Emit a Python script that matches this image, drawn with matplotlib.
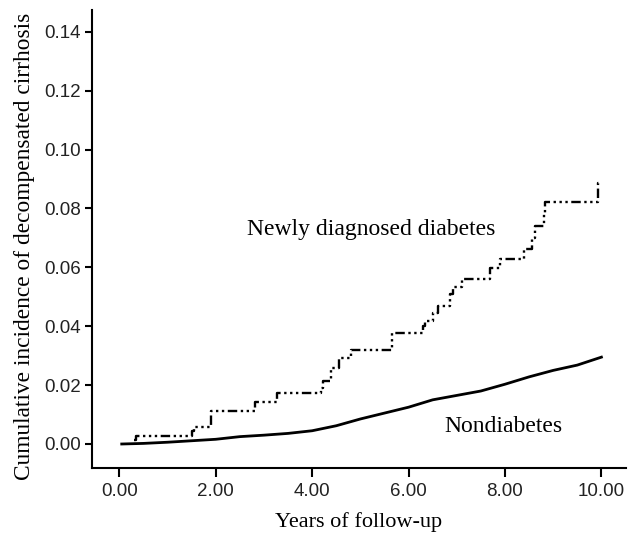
import matplotlib
matplotlib.use("Agg")
import matplotlib.pyplot as plt

# Newly diagnosed diabetes (step function: time of step, value after step)
diab_t = [0.30, 0.35, 1.50, 1.55, 1.90, 2.82, 3.28, 4.18, 4.22, 4.40, 4.55, 4.80,
          5.65, 6.30, 6.35, 6.50, 6.60, 6.86, 6.93, 7.10, 7.68, 7.90, 8.40, 8.55,
          8.62, 8.80, 8.84, 9.92, 10.00]
diab_v = [0.0013, 0.0027, 0.0045, 0.0059, 0.0113, 0.0143, 0.0172, 0.0190, 0.0215,
          0.0258, 0.0292, 0.0319, 0.0377, 0.0400, 0.0418, 0.0445, 0.0468, 0.0510,
          0.0533, 0.0562, 0.0599, 0.0630, 0.0663, 0.0700, 0.0739, 0.0780, 0.0821,
          0.0887, 0.0887]

# Nondiabetes
non_t = [0.05, 0.5, 1.0, 1.5, 2.0, 2.5, 3.0, 3.5, 4.0, 4.5, 5.0, 5.5, 6.0, 6.5,
         7.0, 7.5, 8.0, 8.5, 9.0, 9.5, 10.0]
non_v = [0.0, 0.0002, 0.0006, 0.0011, 0.0016, 0.0025, 0.0030, 0.0036, 0.0045,
         0.0062, 0.0085, 0.0105, 0.0125, 0.0150, 0.0165, 0.0180, 0.0203, 0.0228,
         0.0250, 0.0268, 0.0295]

x_ticks = [0, 2, 4, 6, 8, 10]
x_labels = ["0.00", "2.00", "4.00", "6.00", "8.00", "10.00"]
y_ticks = [0.00, 0.02, 0.04, 0.06, 0.08, 0.10, 0.12, 0.14]
y_labels = ["0.00", "0.02", "0.04", "0.06", "0.08", "0.10", "0.12", "0.14"]

fig = plt.figure(figsize=(6.28, 5.34), dpi=100)
ax = fig.add_axes([91.7 / 628, 1 - 467.7 / 534, (626 - 91.7) / 628, (467.7 - 10) / 534])

ax.plot(diab_t, diab_v, drawstyle="steps-post", color="black", lw=1.7,
        dashes=[4, 1.5, 1, 1.5, 1, 1.5, 1, 1.5])
ax.plot(non_t, non_v, color="black", lw=2.0)

ax.set_xlim(-0.573, 10.51)
ax.set_ylim(-0.00805, 0.1474)
ax.set_xticks(x_ticks)
ax.set_xticklabels(x_labels)
ax.set_yticks(y_ticks)
ax.set_yticklabels(y_labels)

for s in ["top", "right"]:
    ax.spines[s].set_visible(False)
for s in ["left", "bottom"]:
    ax.spines[s].set_linewidth(1.5)

ax.tick_params(axis="x", length=6.5, width=1.5, pad=4.5, labelsize=13.5)
ax.tick_params(axis="y", length=5, width=1.5, pad=3, labelsize=13.5)
for lab in ax.get_xticklabels() + ax.get_yticklabels():
    lab.set_family("Liberation Sans")
    lab.set_color("#222222")

serif = "Liberation Serif"
ax.set_xlabel("Years of follow-up", family=serif, fontsize=16, labelpad=9)
ax.set_ylabel("Cumulative incidence of decompensated cirrhosis", family=serif,
              fontsize=16.8)
ax.yaxis.set_label_coords(-0.106, 0.484)

ax.text(2.65, 0.0729, "Newly diagnosed diabetes", family=serif, fontsize=17,
        va="center", ha="left")
ax.text(6.75, 0.0058, "Nondiabetes", family=serif, fontsize=17,
        va="center", ha="left")

fig.savefig("out.png", dpi=100)
